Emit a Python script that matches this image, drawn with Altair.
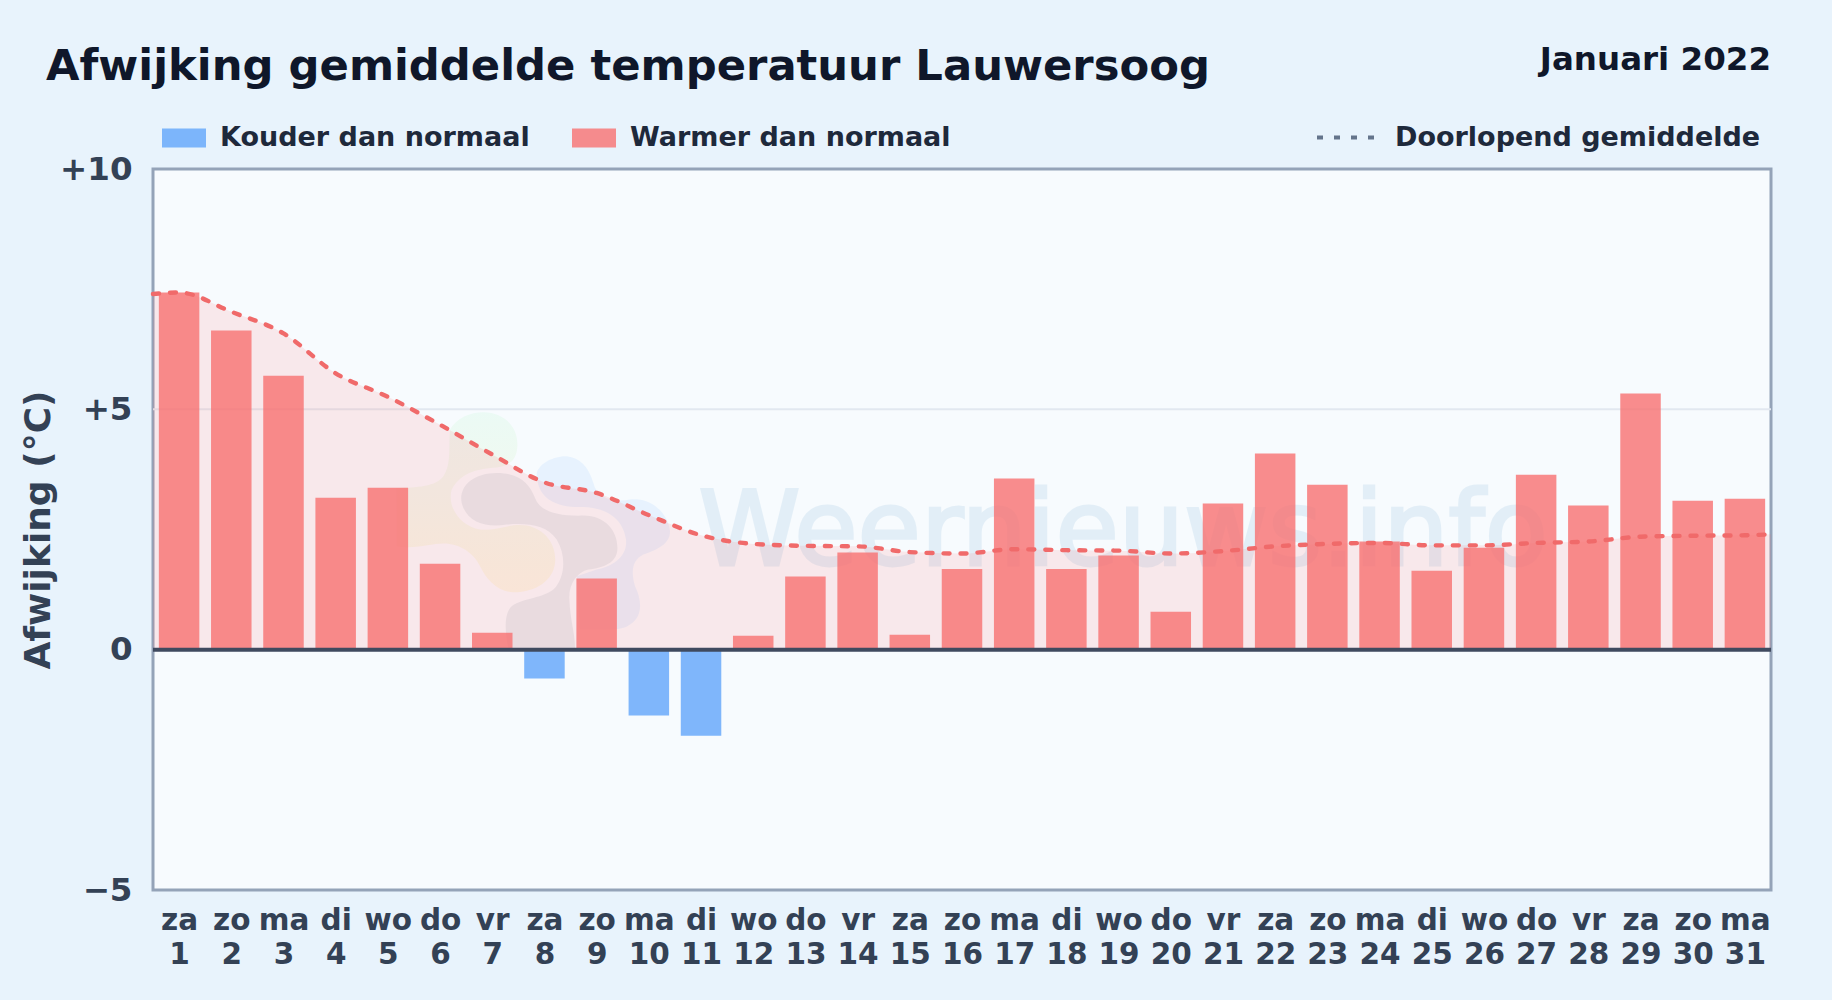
import altair as alt
import pandas as pd

# ---------- data ----------
DAY_NAMES = ["za","zo","ma","di","wo","do","vr","za","zo","ma","di","wo","do","vr","za","zo",
             "ma","di","wo","do","vr","za","zo","ma","di","wo","do","vr","za","zo","ma"]
DAYS = list(range(1, 32))
ANOMALY = [7.43, 6.64, 5.70, 3.16, 3.37, 1.79, 0.35, -0.60, 1.48, -1.37, -1.79, 0.29, 1.52, 2.02, 0.31, 1.68,
           3.56, 1.68, 1.96, 0.79, 3.04, 4.08, 3.43, 2.25, 1.64, 2.12, 3.64, 3.00, 5.33, 3.10, 3.14]
AVG_X = [0.5] + DAYS + [31.5]
AVG_Y = [7.40, 7.43, 7.03, 6.58, 5.75, 5.26, 4.68, 4.06, 3.48, 3.26, 2.80, 2.38, 2.20, 2.16, 2.15, 2.03, 2.00,
         2.09, 2.07, 2.06, 2.00, 2.05, 2.15, 2.20, 2.22, 2.17, 2.17, 2.22, 2.25, 2.35, 2.37, 2.38, 2.40]
COLD = "Kouder dan normaal"
WARM = "Warmer dan normaal"
AVG = "Doorlopend gemiddelde"
TITLE = "Afwijking gemiddelde temperatuur Lauwersoog"
PERIOD = "Januari 2022"
WATERMARK = "Weernieuws.info"
YTICKS = [-5, 0, 5, 10]
YGRID = [5]

# logo outlines (local symbol shapes)
LOGO_YELLOW = ("M310 68C370 68 415 110 412 170C410 205 395 228 350 234C280 238 240 255 215 300C200 350 240 410 300 420"
               "C350 425 390 400 440 408C500 420 530 470 525 520C520 570 470 608 400 608C350 605 320 570 300 530"
               "C280 490 240 462 190 462C150 462 110 480 50 470L50 295C110 295 170 290 190 260C215 225 205 170 210 120C230 85 270 68 310 68Z")
LOGO_PURPLE = ("M350 250C420 250 450 285 465 325C480 365 530 380 610 378C680 378 715 430 712 480C710 520 670 535 625 540"
               "C590 548 565 585 568 630C570 690 585 730 585 775L385 775C375 730 372 680 390 655C420 625 480 630 520 600"
               "C555 565 560 500 530 450C500 405 440 400 380 405C320 415 260 400 245 340C235 290 280 250 350 250Z")
LOGO_BLUE = ("M470 250C480 220 520 200 560 200C600 205 625 230 640 280C650 325 700 340 750 330C810 320 865 370 870 425"
             "C870 465 830 480 790 495C760 510 750 540 765 590C785 630 790 680 750 705C730 720 700 720 680 720L600 720L590 560"
             "L650 540C715 525 742 490 738 450C730 395 690 355 610 352C540 355 470 335 470 250Z")

bars = pd.DataFrame({"day": DAYS, "value": ANOMALY,
                     "kind": [COLD if v < 0 else WARM for v in ANOMALY]})
avg = pd.DataFrame({"x": AVG_X, "y": AVG_Y, "kind": AVG})

xscale = alt.Scale(domain=[0.5, 31.5], nice=False, zero=False, padding=0)
yscale = alt.Scale(domain=[-5, 10], nice=False, padding=0)

names_js = "[" + ",".join(f"'{n}'" for n in DAY_NAMES) + "]"

x_axis = alt.Axis(values=DAYS, title=None, domain=False, ticks=False, grid=False,
                  labelExpr=f"[{names_js}[datum.value-1], datum.label]",
                  labelFont="DejaVu Sans", labelFontWeight="bold", labelFontSize=29.5,
                  labelColor="#334155", labelAngle=0, labelPadding=16, labelLineHeight=34,
                  labelOverlap=False, labelBound=False, labelFlush=False, format="d")
y_axis = alt.Axis(values=YTICKS, title="Afwijking (°C)", domain=False, ticks=False, grid=False,
                  labelExpr="datum.value > 0 ? '+' + datum.value : datum.value < 0 ? '−' + abs(datum.value) : '0'",
                  labelFont="DejaVu Sans", labelFontWeight="bold", labelFontSize=32.5,
                  labelColor="#334155", labelPadding=21, labelFlush=False, labelOverlap=False,
                  titleFont="DejaVu Sans", titleFontWeight="bold", titleFontSize=36,
                  titleColor="#334155", titlePadding=2)

base_x = alt.X("x:Q", scale=xscale, axis=None)
base_y = alt.Y("y:Q", scale=yscale, axis=None)

# watermark
wm = alt.Chart(pd.DataFrame({"x": [10.95], "y": [1.77], "t": [WATERMARK]})).mark_text(
    font="DejaVu Sans", fontSize=103, color="#5fa0cf", stroke="#5fa0cf", strokeWidth=3, opacity=0.13,
    align="left", baseline="alphabetic"
).encode(x=base_x, y=base_y, text="t:N")

logo_pt = pd.DataFrame({"x": [4.85], "y": [5.41]})
def logo(path, fill, op):
    return alt.Chart(logo_pt).mark_point(shape=path, size=0.4444, filled=True, fill=fill, opacity=op, stroke=None
                                         ).encode(x=base_x, y=base_y)
logo_y = logo(LOGO_YELLOW, alt.Gradient(gradient="linear", x1=0, y1=0, x2=0, y2=1,
                                        stops=[alt.GradientStop(offset=0, color="#bbf7d0"),
                                               alt.GradientStop(offset=1, color="#fde68a")]), 0.2)
logo_b = logo(LOGO_BLUE, "#93c5fd", 0.16)
logo_p = logo(LOGO_PURPLE, "#64748b", 0.11)

# axes + gridline + shaded area + bars + line
axes = alt.Chart(pd.DataFrame({"x": [1], "y": [0]})).mark_point(opacity=0).encode(
    x=alt.X("x:Q", scale=xscale, axis=x_axis), y=alt.Y("y:Q", scale=yscale, axis=y_axis))
grid = alt.Chart(pd.DataFrame({"y": YGRID})).mark_rule(color="#e2e8f0", strokeWidth=2).encode(y=base_y)
area = alt.Chart(avg).mark_area(color="#ff6b6b", opacity=0.13, interpolate="monotone").encode(
    x=base_x, y=base_y, y2=alt.datum(0))
bar = alt.Chart(bars).mark_bar(width=40.5, opacity=0.8).encode(
    x=alt.X("day:Q", scale=xscale, axis=None),
    y=alt.Y("value:Q", scale=yscale, axis=None), y2=alt.datum(0),
    color=alt.Color("kind:N", scale=alt.Scale(domain=[COLD, WARM], range=["#60a5fa", "#f87171"]),
                    legend=alt.Legend(orient="none", legendX=9, legendY=-53, direction="horizontal", columns=2,
                                      title=None, symbolType="M-1,-0.43H1V0.43H-1Z", symbolSize=1936, symbolOpacity=0.8,
                                      symbolStrokeWidth=0, labelFont="DejaVu Sans", labelFontWeight="bold", labelFontSize=27,
                                      labelColor="#1e293b", labelOffset=14, labelLimit=600, columnPadding=42, padding=0)))
line = alt.Chart(avg).mark_line(color="#f06a6a", strokeWidth=4.4, strokeCap="round", interpolate="monotone").encode(
    x=base_x, y=base_y,
    strokeDash=alt.StrokeDash("kind:N", scale=alt.Scale(domain=[AVG], range=[[6, 11]]),
                              legend=alt.Legend(orient="none", legendX=1162, legendY=-62, title=None,
                                                symbolType="stroke", symbolSize=3249, symbolStrokeColor="#64748b",
                                                symbolStrokeWidth=4, labelFont="DejaVu Sans", labelFontWeight="bold",
                                                labelFontSize=27, labelColor="#1e293b", labelOffset=19, labelLimit=600, padding=0)))
zero = alt.Chart(pd.DataFrame({"y": [0]})).mark_rule(color="#3f4a5f", strokeWidth=4).encode(y=base_y)

period = alt.Chart(pd.DataFrame({"t": [PERIOD]})).mark_text(
    font="DejaVu Sans", fontWeight="bold", fontSize=32.5, color="#0f172a", align="right", baseline="alphabetic"
).encode(x=alt.value(1618), y=alt.value(-99), text="t:N")

chart = alt.layer(axes, wm, logo_y, logo_b, logo_p, grid, area, bar, zero, line, period).resolve_scale(
    strokeDash="independent", color="independent"
).resolve_axis(x="independent", y="independent").properties(
    width=1618, height=721,
    background="#e8f3fc",
    padding={"left": 145, "top": 161, "right": 53, "bottom": 102},
    autosize=alt.AutoSizeParams(type="none"),
    title=alt.TitleParams(TITLE, anchor="start", frame="group", dx=-107, dy=45.5, offset=0, font="DejaVu Sans",
                          fontWeight="bold", fontSize=43.3, color="#0f172a"),
).configure_view(stroke="#94a3b8", strokeWidth=3, fill="#f7fbfe")

chart.save("out.html", embed_options={"renderer": "svg", "actions": False,
                                       "defaultStyle": "body{background:#e8f3fc;overflow:hidden}"})
